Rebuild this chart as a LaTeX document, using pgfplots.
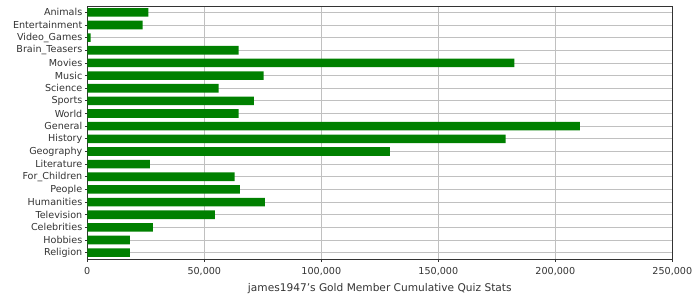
\documentclass[border=0pt]{standalone}
\usepackage{pgfplots}
\pgfplotsset{compat=1.18}
\usepackage{fontspec}
\setmainfont{DejaVu Sans}
\definecolor{bargreen}{RGB}{0,128,0}
\definecolor{gridgray}{RGB}{192,192,192}
\definecolor{framegray}{RGB}{51,51,51}
\definecolor{textgray}{RGB}{51,51,51}
\begin{document}
\begin{tikzpicture}
\begin{axis}[
  at={(0,0)}, anchor=south west,
  scale only axis,
  width=585bp, height=253bp,
  xbar, bar width=8.6bp,
  xmin=0, xmax=250000,
  ymin=-0.5, ymax=19.5,
  y dir=reverse,
  ytick={0,...,19},
  yticklabels={Animals,Entertainment,Video\_Games,Brain\_Teasers,Movies,Music,Science,Sports,World,General,History,Geography,Literature,For\_Children,People,Humanities,Television,Celebrities,Hobbies,Religion},
  xtick={0,50000,100000,150000,200000,250000},
  xticklabels={0,{50,000},{100,000},{150,000},{200,000},{250,000}},
  scaled x ticks=false,
  grid=major,
  major grid style={gridgray, line width=0.8bp},
  axis line style={framegray, line width=0.9bp},
  tick style={framegray, line width=0.8bp},
  tick align=outside,
  major tick length=2.5bp,
  xtick pos=bottom, ytick pos=left,
  tick label style={font=\fontsize{9.6bp}{11bp}\selectfont, text=textgray},
  yticklabel style={xshift=1bp},
  xticklabel style={yshift=-2bp},
  xlabel={james1947's Gold Member Cumulative Quiz Stats},
  xlabel style={font=\fontsize{10.6bp}{12bp}\selectfont, text=textgray, yshift=-1.5bp},
]
\addplot[fill=bargreen, draw=none] coordinates {
  (26100,0) (23600,1) (1400,2) (64700,3) (182500,4) (75400,5) (56100,6)
  (71200,7) (64700,8) (210500,9) (178800,10) (129300,11) (26700,12)
  (63000,13) (65200,14) (75900,15) (54500,16) (28000,17) (18200,18) (18200,19)
};
\end{axis}
\pgfresetboundingbox
\path[use as bounding box] (-87.3bp,-41bp) rectangle (612.7bp,259bp);
\end{tikzpicture}
\end{document}
